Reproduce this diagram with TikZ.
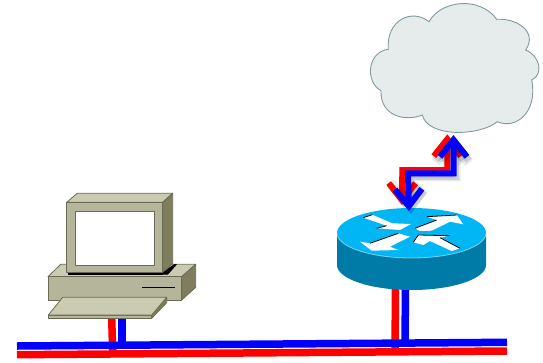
\documentclass[tikz,border=0pt]{standalone}
\usepackage{xcolor}
\usetikzlibrary{arrows.meta}

\definecolor{pcface}{HTML}{B5B59C}
\definecolor{pclight}{HTML}{CBCAB3}
\definecolor{pcdark}{HTML}{7E7E5E}
\definecolor{pcedge}{HTML}{6A6B52}
\definecolor{cloudfill}{HTML}{E6ECEC}
\definecolor{cloudedge}{HTML}{7F9A9E}
\definecolor{routertop}{HTML}{00B6F4}
\definecolor{routerside}{HTML}{007BA8}

\begin{document}
\begin{tikzpicture}[
    x=1pt, y=-1pt,
    pcpart/.style={draw=pcedge, line width=0.8pt, line join=round},
    wire/.style={line width=7.5pt},
    redwire/.style={wire, color=red},
    bluewire/.style={wire, color=blue},
    barb/.style={{Straight Barb[length=17pt, width=27pt]}-{Straight Barb[length=17pt, width=27pt]}},
    wan/.style={line width=6pt, barb,
        preaction={draw=black, opacity=0.08, line width=10pt, transform canvas={shift={(2pt,-3pt)}}},
        preaction={draw=black, opacity=0.12, line width=7pt, transform canvas={shift={(2pt,-3pt)}}}},
    turn/.style={white, line width=0pt, fill=white},
    turnedge/.style={black, line width=0.8pt},
]
\useasboundingbox (0,0) rectangle (543,362);

% link ends
\coordinate (pcred) at (111.7,318);
\coordinate (pcblue) at (122,318);
\coordinate (pcredbus) at (112.7,353);
\coordinate (pcbluebus) at (122,344);
\coordinate (rtred) at (395.5,288);
\coordinate (rtblue) at (405.5,288);
\coordinate (rtredbus) at (395,351);
\coordinate (rtbluebus) at (405,342);
\coordinate (busredl) at (17,354.7);
\coordinate (busredr) at (507,351);
\coordinate (busbluel) at (17,346);
\coordinate (busbluer) at (507,342.3);

% links to the bus
\draw[redwire] (pcred) -- (pcredbus);
\draw[bluewire] (pcblue) -- (pcbluebus);
\draw[redwire] (rtred) -- (rtredbus);
\draw[bluewire] (rtblue) -- (rtbluebus);
\draw[redwire] (busredl) -- (busredr);
\draw[bluewire] (busbluel) -- (busbluer);

% cloud
\draw[fill=cloudfill, draw=cloudedge, line width=0.9pt] (429,21.7)
    .. controls (441,0) and (480,-4) .. (496.7,19.3)
    .. controls (517,18) and (538,32) .. (525.7,50)
    .. controls (540,56) and (544,74) .. (531.7,80)
    .. controls (538,112) and (516,130) .. (497.3,121.7)
    .. controls (480,136) and (428,138) .. (422.3,115)
    .. controls (405,122) and (380,116) .. (381,90.7)
    .. controls (365,82) and (367,52) .. (388.3,49.3)
    .. controls (386,20) and (412,8) .. (429,21.7) -- cycle;

% computer
\draw[pcpart, fill=pclight] (48,276.7) -- (60.7,264.3) -- (195.7,264.3) -- (181.7,276.7) -- cycle;
\draw[pcpart, fill=pcdark] (181.7,276.7) -- (195.7,264.3) -- (195.7,287.3) -- (181.7,300) -- cycle;
\draw[pcpart, fill=pcface] (48,276.7) rectangle (181.7,300);
\fill[black] (67.7,272.3) rectangle (162.7,274.5);
\fill[black] (162.7,274.5) -- (162.7,272.3) -- (174.3,264) -- (177,264.3) -- (168,274.5) -- cycle;
\draw[pcpart, fill=pclight] (66.7,202.3) -- (77.3,193.3) -- (172.7,193.3) -- (162.7,202.3) -- cycle;
\draw[pcpart, fill=pcdark] (162.7,202.3) -- (172.7,193.3) -- (172.7,263.3) -- (162.7,272.3) -- cycle;
\draw[pcpart, fill=pcface] (66.7,202.3) rectangle (162.7,272.3);
\draw[pcpart, fill=white] (75.3,211.3) rectangle (154.3,265);
\draw[black, line width=1.6pt] (142.3,287.3) -- (175,287.3);
\draw[pcpart, fill=pcdark] (151.7,315) -- (166.7,297.3) -- (166.7,302.7) -- (151.7,318.3) -- cycle;
\draw[pcpart, fill=pcface] (48.3,315) rectangle (151.7,318.3);
\draw[pcpart, fill=pclight] (48.3,315) -- (62.7,297.3) -- (166.7,297.3) -- (151.7,315) -- cycle;

% router
\fill[routerside] (337,233) -- (337,265) arc[start angle=180, end angle=360, x radius=74.5, y radius=-25] -- (486,233) -- cycle;
\fill[routertop] (411.5,233) ellipse[x radius=74.5, y radius=25];
\draw[white, opacity=0.5, line width=0.8pt] (337,233) arc[start angle=180, end angle=360, x radius=74.5, y radius=-25];

% router arrows
\fill[turn] (363.3,217.7) -- (372.3,214.7) -- (392.3,223.3) -- (411,224) -- (400,230) -- (376.7,228.3) -- (386.7,225.7) -- cycle;
\draw[turnedge] (363.3,217.7) -- (372.3,214.7);
\draw[turnedge] (376.7,228.3) -- (386.7,225.7);
\fill[turn] (415,228.3) -- (436.7,220) -- (426.7,216.7) -- (456.7,215) -- (463.3,224.3) -- (450,221.7) -- (431.7,230.7) -- (420,231) -- cycle;
\draw[turnedge] (415,228.3) -- (436.7,220);
\draw[turnedge] (426.7,216.7) -- (456.7,215);
\fill[turn] (360,241.7) -- (370,243.3) -- (398.3,233.3) -- (410,236.7) -- (390,246.7) -- (398.3,250) -- (371.7,250.7) -- cycle;
\draw[turnedge] (370,243.3) -- (398.3,233.3);
\fill[turn] (413.3,242.3) -- (418.3,235) -- (450,235.7) -- (440,237.7) -- (460,248.3) -- (451.7,251) -- (430,241) -- (423.3,245) -- cycle;
\draw[turnedge] (413.3,242.3) -- (418.3,235) -- (450,235.7);
\draw[turnedge] (440,237.7) -- (460,248.3);

% link from the router to the cloud
\coordinate (wanredl) at (402,205);
\coordinate (wanredr) at (447.3,134.3);
\coordinate (wanbluel) at (409,211);
\coordinate (wanbluer) at (453.5,135);
\draw[wan, color=red] (wanredl) -- (402.3,170) -- (447.3,170) -- (wanredr);
\draw[wan, color=blue] (wanbluel) -- (408,173.3) -- (453.5,173.3) -- (wanbluer);

\end{tikzpicture}
\end{document}
